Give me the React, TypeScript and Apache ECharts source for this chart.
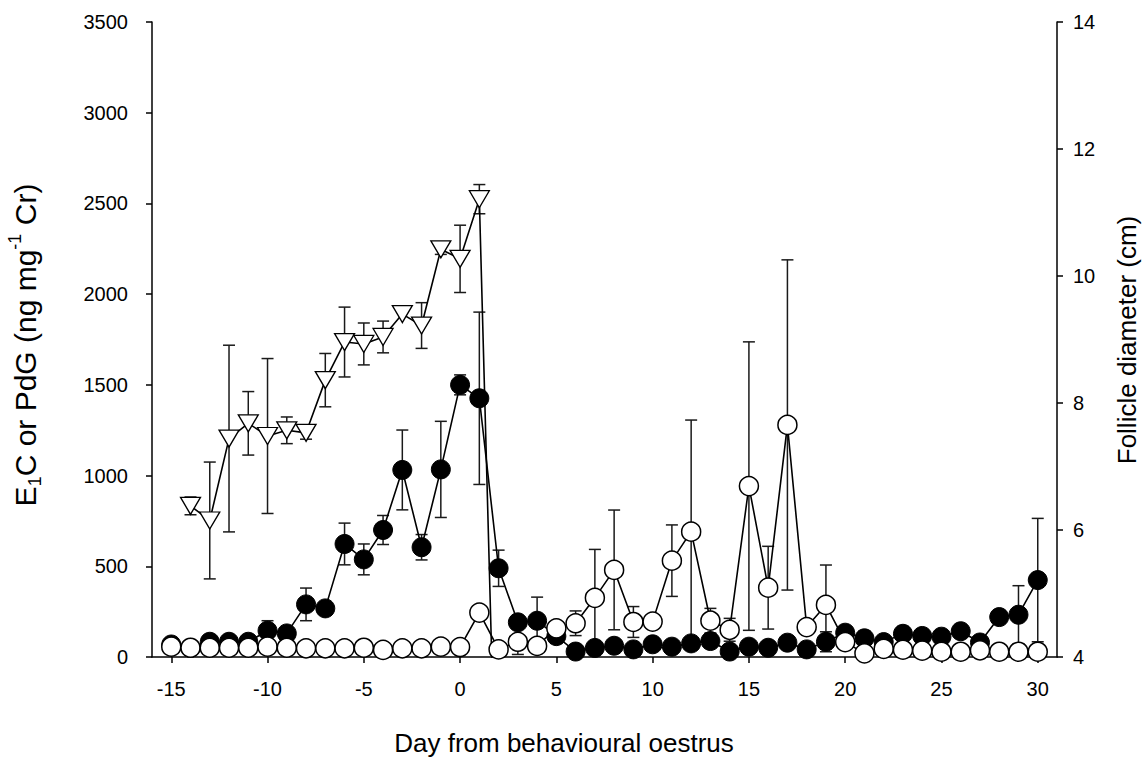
import React, { useEffect, useRef } from "react";
import * as echarts from "echarts";

// Days from behavioural oestrus
const days = [
  -15, -14, -13, -12, -11, -10, -9, -8, -7, -6, -5, -4, -3, -2, -1, 0, 1, 2, 3, 4, 5, 6, 7, 8,
  9, 10, 11, 12, 13, 14, 15, 16, 17, 18, 19, 20, 21, 22, 23, 24, 25, 26, 27, 28, 29, 30,
];

// E1C (filled circles), ng/mg Cr
const e1c = [
  69, 50, 84, 84, 84, 145, 130, 290, 268, 623, 538, 700, 1031, 605, 1034, 1500, 1426, 489, 191,
  200, 115, 30, 50, 62, 42, 70, 57, 75, 88, 30, 57, 51, 79, 42, 84, 134, 103, 82, 128, 116, 112,
  142, 80, 220, 233, 424,
];
const e1cErr = [
  0, 0, 0, 0, 0, 55, 0, 90, 0, 115, 85, 80, 220, 70, 265, 55, 475, 100, 0, 130, 40, 0, 0, 0, 0,
  0, 0, 0, 0, 0, 0, 0, 0, 0, 55, 0, 40, 0, 40, 0, 0, 0, 0, 0, 160, 340,
];

// PdG (open circles), ng/mg Cr
const pdg = [
  57, 51, 51, 51, 51, 57, 51, 48, 48, 48, 51, 39, 48, 48, 57, 55, 245, 42, 84, 61, 158, 186, 326,
  480, 193, 195, 531, 691, 200, 150, 942, 382, 1279, 165, 287, 82, 20, 45, 40, 35, 29, 29, 37, 29,
  29, 29,
];
const pdgErr = [
  0, 0, 0, 0, 0, 0, 0, 0, 0, 0, 0, 0, 0, 0, 0, 0, 0, 0, 70, 0, 0, 68, 267, 330, 85, 0, 197, 615,
  68, 63, 795, 228, 910, 0, 220, 0, 0, 0, 0, 0, 0, 0, 0, 0, 0, 0,
];

// Follicle diameter (triangles), cm
const follicleDays = [-14, -13, -12, -11, -10, -9, -8, -7, -6, -5, -4, -3, -2, -1, 0, 1, 2];
const follicle = [
  6.38, 6.15, 7.44, 7.68, 7.48, 7.57, 7.53, 8.36, 8.96, 8.93, 9.04, 9.4, 9.22, 10.42, 10.27, 11.21,
  0,
];
const follicleErr = [
  0.14, 0.92, 1.47, 0.5, 1.22, 0.21, 0.1, 0.42, 0.55, 0.33, 0.25, 0, 0.36, 0.08, 0.53, 0.23, 0,
];

const xTicks = [-15, -10, -5, 0, 5, 10, 15, 20, 25, 30];

const FONT = "'Liberation Sans', Arial, Helvetica, sans-serif";

function errorSeries(xs: number[], ys: number[], errs: number[], yAxisIndex: number) {
  const data: number[][] = [];
  xs.forEach((x, i) => {
    if (errs[i]) data.push([x, ys[i] - errs[i], ys[i] + errs[i]]);
  });
  return {
    type: "custom",
    xAxisIndex: 0,
    yAxisIndex,
    data,
    clip: true,
    silent: true,
    encode: { x: 0, y: [1, 2] },
    renderItem: (params: any, api: any) => {
      const x = api.value(0);
      const lo = api.coord([x, api.value(1)]);
      const hi = api.coord([x, api.value(2)]);
      const w = 6;
      const st = { stroke: "#1a1a1a", lineWidth: 1.5 };
      return {
        type: "group",
        children: [
          { type: "line", shape: { x1: lo[0], y1: lo[1], x2: hi[0], y2: hi[1] }, style: st },
          { type: "line", shape: { x1: lo[0] - w, y1: lo[1], x2: lo[0] + w, y2: lo[1] }, style: st },
          { type: "line", shape: { x1: hi[0] - w, y1: hi[1], x2: hi[0] + w, y2: hi[1] }, style: st },
        ],
      };
    },
  };
}

export default function App() {
  const ref = useRef<HTMLDivElement>(null);

  useEffect(() => {
    if (!ref.current) return;
    const chart = echarts.init(ref.current, undefined, { renderer: "svg" });

    const axisLine = { show: true, onZero: false, lineStyle: { color: "#000", width: 1.5 } };
    const axisTick = { show: true, length: 6, lineStyle: { color: "#000", width: 1.5 } };
    const labelStyle = {
      color: "#000",
      fontSize: 20,
      fontFamily: FONT,
      formatter: (v: number) => String(v),
    };

    const option: any = {
      animation: false,
      backgroundColor: "#fff",
      grid: { left: 152, right: 85, top: 22, bottom: 109, containLabel: false },
      xAxis: {
        type: "value",
        min: -16,
        max: 31,
        axisLine,
        axisTick: { ...axisTick, customValues: xTicks },
        axisLabel: { ...labelStyle, margin: 22, customValues: xTicks },
        splitLine: { show: false },
      },
      yAxis: [
        {
          type: "value",
          position: "left",
          min: 0,
          max: 3500,
          interval: 500,
          axisLine,
          axisTick,
          axisLabel: { ...labelStyle, margin: 24 },
          splitLine: { show: false },
        },
        {
          type: "value",
          position: "right",
          min: 4,
          max: 14,
          interval: 2,
          axisLine,
          axisTick,
          axisLabel: { ...labelStyle, margin: 16 },
          splitLine: { show: false },
        },
      ],
      graphic: [
        {
          type: "text",
          x: 25,
          y: 345,
          rotation: Math.PI / 2,
          silent: true,
          style: {
            text: "{m|E}{s|1}{m|C or PdG (ng mg}{p|-1}{m| Cr)}",
            align: "center",
            verticalAlign: "middle",
            textAlign: "center",
            textVerticalAlign: "middle",
            fill: "#000",
            rich: {
              m: { fontSize: 30, fontFamily: FONT, fill: "#000", lineHeight: 38 },
              s: {
                fontSize: 18,
                fontFamily: FONT,
                fill: "#000",
                lineHeight: 18,
                verticalAlign: "bottom",
              },
              p: {
                fontSize: 18,
                fontFamily: FONT,
                fill: "#000",
                lineHeight: 18,
                verticalAlign: "top",
              },
            },
          },
        },
        {
          type: "text",
          x: 1127,
          y: 340,
          rotation: Math.PI / 2,
          silent: true,
          style: {
            text: "Follicle diameter (cm)",
            fontSize: 26,
            fontFamily: FONT,
            fill: "#000",
            align: "center",
            verticalAlign: "middle",
            textAlign: "center",
            textVerticalAlign: "middle",
          },
        },
        {
          type: "text",
          x: 564,
          y: 743,
          silent: true,
          style: {
            text: "Day from behavioural oestrus",
            fontSize: 26,
            fontFamily: FONT,
            fill: "#000",
            align: "center",
            verticalAlign: "middle",
            textAlign: "center",
            textVerticalAlign: "middle",
          },
        },
      ],
      series: [
        errorSeries(days, e1c, e1cErr, 0),
        {
          type: "line",
          name: "E1C",
          xAxisIndex: 0,
          yAxisIndex: 0,
          data: days.map((d, i) => [d, e1c[i]]),
          symbol: "circle",
          symbolSize: 19,
          lineStyle: { color: "#000", width: 1.6 },
          itemStyle: { color: "#000", borderColor: "#000", borderWidth: 1 },
          clip: true,
          silent: true,
        },
        errorSeries(days, pdg, pdgErr, 0),
        {
          type: "line",
          name: "PdG",
          xAxisIndex: 0,
          yAxisIndex: 0,
          data: days.map((d, i) => [d, pdg[i]]),
          symbol: "circle",
          symbolSize: 19,
          lineStyle: { color: "#000", width: 1.6 },
          itemStyle: { color: "#fff", borderColor: "#000", borderWidth: 1.5 },
          clip: true,
          silent: true,
        },
        errorSeries(follicleDays, follicle, follicleErr, 1),
        {
          type: "line",
          name: "Follicle",
          xAxisIndex: 0,
          yAxisIndex: 1,
          data: follicleDays.map((d, i) => [d, follicle[i]]),
          symbol: "triangle",
          symbolRotate: 180,
          symbolSize: [20, 17],
          lineStyle: { color: "#000", width: 1.6 },
          itemStyle: { color: "#fff", borderColor: "#000", borderWidth: 1.3 },
          clip: true,
          silent: true,
        },
      ],
    };

    chart.setOption(option);
    return () => chart.dispose();
  }, []);

  return (
    <div
      ref={ref}
      style={{ position: "fixed", left: 0, top: 0, width: 1142, height: 766, background: "#fff" }}
    />
  );
}
